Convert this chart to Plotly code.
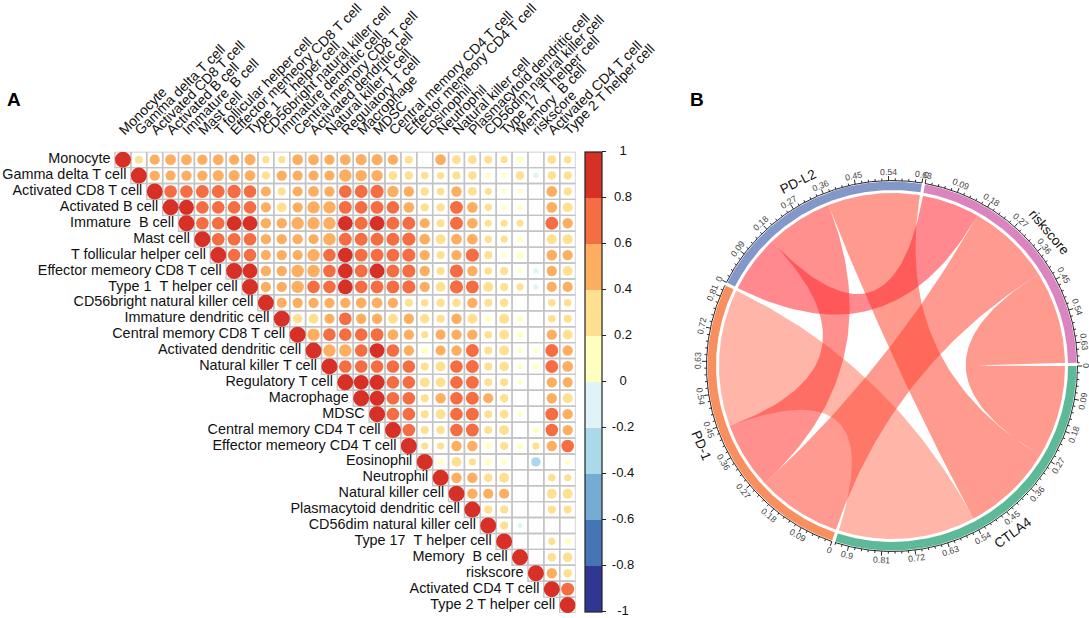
import numpy as np
import plotly.graph_objects as go

W, H = 1089, 618
NB = "\u00a0"
cell_labels = ["Monocyte", "Gamma delta T cell", "Activated CD8 T cell", "Activated B cell",
    f"Immature {NB}B cell", "Mast cell", "T follicular helper cell", "Effector memeory CD8 T cell",
    f"Type 1 {NB}T helper cell", "CD56bright natural killer cell", "Immature dendritic cell",
    "Central memory CD8 T cell", "Activated dendritic cell", "Natural killer T cell",
    "Regulatory T cell", "Macrophage", "MDSC", "Central memory CD4 T cell",
    "Effector memeory CD4 T cell", "Eosinophil", "Neutrophil", "Natural killer cell",
    "Plasmacytoid dendritic cell", "CD56dim natural killer cell", f"Type 17 {NB}T helper cell",
    f"Memory {NB}B cell", "riskscore", "Activated CD4 T cell", "Type 2 T helper cell"]

# upper triangle of the correlation matrix, each row starts on the diagonal
corr_rows = [
 [1,.25,.4,.45,.45,.42,.45,.42,.48,.2,.2,.45,.45,.42,.45,.48,.48,.42,.25,0,.45,.3,.3,.25,.2,.18,0,.3,.22],
 [1,.42,.4,.42,.42,.48,.48,.45,.25,.42,.4,.4,.4,.6,.5,.5,.3,.28,.22,.2,.25,.28,.12,.1,.28,-.12,.28,.25],
 [1,.62,.62,.65,.65,.7,.62,.4,.25,.4,.45,.42,.62,.65,.68,.5,.42,.28,.22,.42,.3,.2,.1,.1,0,.45,.25],
 [1,.88,.62,.62,.62,.62,.4,.38,.42,.6,.6,.65,.62,.65,.62,.45,.28,.28,.65,.45,.22,.1,.1,0,.45,.38],
 [1,.62,.62,.85,.85,.42,.42,.6,.6,.6,.85,.65,.85,.65,.65,.4,.25,.65,.45,.2,.2,.2,0,.65,.42],
 [1,.62,.62,.62,.42,.42,.42,.4,.6,.65,.65,.65,.65,.68,.45,.38,.45,.45,.22,.2,.12,0,.38,.38],
 [1,.62,.62,.4,.42,.4,.6,.62,.85,.65,.65,.65,.68,.42,.25,.42,.68,.25,.1,.18,0,.45,.42],
 [1,.85,.42,.42,.6,.6,.62,.85,.65,.85,.65,.68,.42,.25,.68,.42,.22,.25,.1,-.12,.42,.38],
 [1,.42,.42,.6,.62,.62,.85,.62,.65,.65,.68,.42,.38,.68,.65,.38,.25,.2,-.12,.4,.4],
 [1,.4,.42,.42,.42,.42,.45,.45,.42,.25,.22,.28,.28,.42,.25,.28,0,0,.22,.22],
 [1,.35,.38,.4,.62,.42,.42,.38,.42,.35,.25,.42,.38,.15,.38,.15,0,.22,.25],
 [1,.6,.62,.62,.62,.65,.45,.42,.2,.4,.42,.42,.22,.38,.15,0,.42,.38],
 [1,.6,.6,.62,.85,.62,.42,.18,.4,.42,.65,.25,.38,.1,.1,.65,.42],
 [1,.62,.62,.62,.62,.62,.25,.38,.62,.65,.25,.35,.1,.15,.65,.45],
 [1,.85,.88,.62,.62,.38,.38,.62,.65,.25,.25,.1,0,.42,.4],
 [1,.88,.62,.62,.25,.42,.62,.65,.4,.28,0,0,.42,.38],
 [1,.62,.62,.25,.38,.62,.65,.25,.3,.1,0,.65,.42],
 [1,.62,.25,.28,.62,.65,.25,.38,0,.15,.62,.42],
 [1,.2,.2,.42,.42,.18,.25,.15,.2,.42,.62],
 [1,.15,.38,.2,.18,.12,0,-.35,0,.1],
 [1,.42,.42,.28,.38,0,0,.22,.2],
 [1,.42,.4,.4,0,0,.38,.38],
 [1,.25,.25,0,0,.28,.25],
 [1,.25,-.1,0,0,0],
 [1,0,0,.2,.15],
 [1,0,.28,.35],
 [1,.42,.28],
 [1,.65],
 [1],
]
colorbar_ticks = [1, .8, .6, .4, .2, 0, -.2, -.4, -.6, -.8, -1]
colorbar_labels = ["1", "0.8", "0.6", "0.4", "0.2", "0", "-0.2", "-0.4", "-0.6", "-0.8", "-1"]
bin_colors = ["#313695", "#4575B4", "#74ADD1", "#ABD9E9", "#E0F3F8",
              "#FFFFBF", "#FEE090", "#FDAE61", "#F46D43", "#D73027"]

# chord diagram
sectors = ["CTLA4", "PD-1", "PD-L2", "riskscore"]
sector_colors = ["#5DB998", "#F98F5F", "#8398C8", "#DB85C0"]
# links of every sector, in drawing order clockwise: (partner, value)
sector_links = {
    "CTLA4": [("riskscore", .27), ("PD-L2", .268), ("PD-1", .40)],
    "PD-1": [("riskscore", .247), ("PD-L2", .195), ("CTLA4", .40)],
    "PD-L2": [("riskscore", .167), ("PD-1", .195), ("CTLA4", .268)],
    "riskscore": [("PD-L2", .167), ("PD-1", .247), ("CTLA4", .27)],
}
link_colors = {
    ("CTLA4", "PD-1"): "rgba(255,88,60,0.44)",
    ("CTLA4", "PD-L2"): "rgba(255,62,40,0.52)",
    ("CTLA4", "riskscore"): "rgba(255,62,40,0.52)",
    ("PD-1", "riskscore"): "rgba(255,62,42,0.52)",
    ("PD-1", "PD-L2"): "rgba(255,50,45,0.54)",
    ("PD-L2", "riskscore"): "rgba(255,40,50,0.55)",
}
major_step, minor_step = 0.09, 0.018
GAP = 1.0

n = len(cell_labels)
MX0, MX1, MY0, MY1 = 115, 575.6, 151.7, 613
CELL = (MX1 - MX0)/n
CX, CY = 892, 366
R_LINK, R_IN, R_OUT, R_AXIS = 173, 176, 184.5, 185.5

fig = go.Figure()

# grid
gx, gy = [], []
for i in range(n):
    for j in range(i, n):
        gx += [j-.5, j+.5, j+.5, j-.5, j-.5, None]
        gy += [i-.5, i-.5, i+.5, i+.5, i-.5, None]
fig.add_trace(go.Scatter(x=gx, y=gy, mode="lines", line=dict(color="#c4c4c4", width=1.4),
                         hoverinfo="skip", showlegend=False, xaxis="x", yaxis="y"))

# circles
xs, ys, vs = [], [], []
for i, row in enumerate(corr_rows):
    for k, v in enumerate(row):
        if v != 0:
            xs.append(i+k); ys.append(i); vs.append(v)
scale = []
for k, c in enumerate(bin_colors):
    scale += [[k/10, c], [(k+1)/10, c]]
fig.add_trace(go.Scatter(
    x=xs, y=ys, mode="markers", showlegend=False,
    marker=dict(size=16*np.sqrt(np.abs(vs)), color=vs, cmin=-1, cmax=1, colorscale=scale,
                opacity=1, line=dict(width=0),
                colorbar=dict(x=585/W, xanchor="left", xpad=0, y=1-151.7/H, yanchor="top", ypad=0,
                              thickness=17, thicknessmode="pixels", len=460, lenmode="pixels",
                              outlinecolor="#222", outlinewidth=1.2, tickmode="array",
                              tickvals=colorbar_ticks, ticks="outside", ticklen=4, tickcolor="#222",
                              showticklabels=False)),
    xaxis="x", yaxis="y"))

# row labels, staircase
fig.add_trace(go.Scatter(x=[i-.78 for i in range(n)], y=list(range(n)), mode="text", text=cell_labels,
                         textposition="middle left", textfont=dict(size=14.4, color="#111"),
                         cliponaxis=False, hoverinfo="skip", showlegend=False, xaxis="x", yaxis="y"))

# colour bar labels
fig.add_trace(go.Scatter(x=[.5]*len(colorbar_ticks), y=colorbar_ticks, mode="text", text=colorbar_labels,
                         textposition="middle center", textfont=dict(size=13, color="#111"),
                         cliponaxis=False, hoverinfo="skip", showlegend=False, xaxis="x3", yaxis="y3"))

# chord geometry
totals = {s: sum(v for _, v in sector_links[s]) for s in sectors}
unit = (360 - GAP*len(sectors)) / sum(totals.values())
start, pos, seg = {}, 0.0, {}
for s in sectors:
    start[s] = pos
    a = pos
    for partner, v in sector_links[s]:
        seg[(s, partner)] = (a, a + v*unit)
        a += v*unit
    pos += totals[s]*unit + GAP

def polar(r, deg):
    t = np.radians(deg)
    return r*np.cos(t), r*np.sin(t)

def arc(r, a, b):
    m = max(2, int(abs(b-a)*2))
    return polar(r, np.linspace(a, b, m))

def bez(p, q):
    t = np.linspace(0, 1, 60)
    return (1-t)**2*p[0] + t**2*q[0], (1-t)**2*p[1] + t**2*q[1]

for (s1, s2), col in link_colors.items():
    a1, a2 = seg[(s1, s2)]
    b1, b2 = seg[(s2, s1)]
    parts = [arc(R_LINK, a1, a2), bez(polar(R_LINK, a2), polar(R_LINK, b1)),
             arc(R_LINK, b1, b2), bez(polar(R_LINK, b2), polar(R_LINK, a1))]
    fig.add_trace(go.Scatter(x=np.concatenate([p[0] for p in parts]), y=np.concatenate([p[1] for p in parts]),
                             mode="lines", fill="toself", fillcolor=col, line=dict(width=0),
                             hoverinfo="skip", showlegend=False, xaxis="x2", yaxis="y2"))

annotations = []
def tangent(deg):
    a = deg - 90
    while a > 90: a -= 180
    while a < -90: a += 180
    return a

tx, ty = [], []
for s, col in zip(sectors, sector_colors):
    a0, a1 = start[s], start[s] + totals[s]*unit
    o, i_ = arc(R_OUT, a0, a1), arc(R_IN, a1, a0)
    fig.add_trace(go.Scatter(x=np.concatenate([o[0], i_[0]]), y=np.concatenate([o[1], i_[1]]),
                             mode="lines", fill="toself", fillcolor=col, line=dict(width=0),
                             hoverinfo="skip", showlegend=False, xaxis="x2", yaxis="y2"))
    ax_, ay_ = arc(R_AXIS, a0, a1)
    tx += list(ax_) + [None]; ty += list(ay_) + [None]
    for k in range(int(totals[s]/minor_step + 1e-6) + 1):
        deg = a0 + k*minor_step*unit
        major = k % 5 == 0
        p, q = polar(R_AXIS, deg), polar(R_AXIS + (4.5 if major else 2.2), deg)
        tx += [p[0], q[0], None]; ty += [p[1], q[1], None]
        if major:
            lx, ly = polar(R_AXIS + 8.5, deg)
            lab = f"{k*minor_step:.2f}".rstrip("0").rstrip(".") if k else "0"
            annotations.append(dict(x=lx, y=ly, xref="x2", yref="y2", text=lab, showarrow=False,
                                    textangle=tangent(deg), font=dict(size=8.8, color="#444"),
                                    xanchor="center", yanchor="middle"))
    mid = (a0 + a1)/2
    nx, ny = polar(R_AXIS + 21, mid)
    annotations.append(dict(x=nx, y=ny, xref="x2", yref="y2", text=s, showarrow=False,
                            textangle=tangent(mid), font=dict(size=13.5, color="#111"),
                            xanchor="center", yanchor="middle"))
fig.add_trace(go.Scatter(x=tx, y=ty, mode="lines", line=dict(color="#111", width=.9),
                         hoverinfo="skip", showlegend=False, xaxis="x2", yaxis="y2"))

for txt, px in (("A", 14), ("B", 697)):
    annotations.append(dict(x=px/W, y=1-100/H, xref="paper", yref="paper", text=f"<b>{txt}</b>",
                            showarrow=False, font=dict(size=19, color="#000"),
                            xanchor="center", yanchor="middle"))

off = dict(visible=False, fixedrange=True)
C0, C1 = 680, 1089
Y0, Y1 = 140, 600
fig.update_layout(
    width=W, height=H, margin=dict(l=0, r=0, t=0, b=0), paper_bgcolor="white", plot_bgcolor="rgba(0,0,0,0)",
    font=dict(family="Liberation Sans, Arial, sans-serif"), showlegend=False, annotations=annotations,
    xaxis=dict(domain=[(MX0-.5*CELL)/W, MX1/W], range=[-1, n-.5], side="top", tickmode="array",
               tickvals=[i-.2 for i in range(n)], ticktext=cell_labels, tickangle=-45, ticks="", showgrid=False,
               zeroline=False, showline=False, automargin=False, ticklabelstandoff=10,
               tickfont=dict(size=14, color="#111"), fixedrange=True, anchor="y"),
    yaxis=dict(domain=[1-MY1/H, 1-MY0/H], range=[n-.5, -.5], visible=False, fixedrange=True, anchor="x"),
    xaxis2=dict(domain=[C0/W, C1/W], range=[C0-CX, C1-CX], anchor="y2", **off),
    yaxis2=dict(domain=[1-Y1/H, 1-Y0/H], range=[Y1-CY, Y0-CY], anchor="x2", **off),
    xaxis3=dict(domain=[608/W, 638/W], range=[0, 1], anchor="y3", **off),
    yaxis3=dict(domain=[1-612/H, 1-151.7/H], range=[-1, 1], anchor="x3", **off),
)
fig.write_html("out.html", config=dict(displayModeBar=False), post_script="document.body.style.margin='0';")
